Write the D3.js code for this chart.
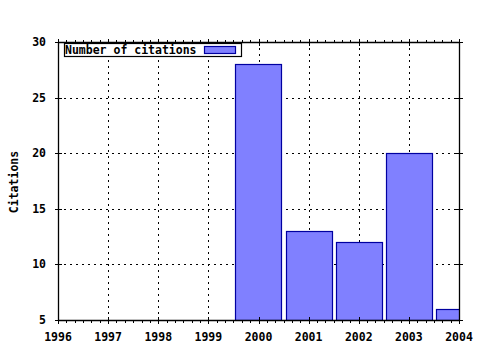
<!DOCTYPE html>
<html><head><meta charset="utf-8">
<script src="https://cdn.jsdelivr.net/npm/d3@7"></script>
<style>
body{margin:0;background:#fff;}
text{font-family:"DejaVu Sans Mono",monospace;font-weight:bold;font-size:11.5px;fill:#000;}
</style></head>
<body><svg id="c" width="480" height="350"></svg>
<script>
const years = [2000, 2001, 2002, 2003, 2004];
const citations = [28, 13, 12, 20, 6];
const xTicks = [1996, 1997, 1998, 1999, 2000, 2001, 2002, 2003, 2004];
const yTicks = [5, 10, 15, 20, 25, 30];
const seriesName = "Number of citations";
const yTitle = "Citations";

const svg = d3.select("#c");
const L = 58, R = 459, T = 42, B = 320;
const x = d3.scaleLinear().domain([1996, 2004]).range([L, R]);
const y = d3.scaleLinear().domain([5, 30]).range([B, T]);

const clip = svg.append("clipPath").attr("id","clp").append("rect")
  .attr("x", L).attr("y", T).attr("width", R - L).attr("height", B - T);

// grid
const grid = svg.append("g").attr("stroke","#000").attr("stroke-width",1).attr("stroke-dasharray","2,4");
grid.selectAll("line.v").data(xTicks.slice(1,-1)).join("line")
  .attr("x1", d => Math.round(x(d)) + 0.5).attr("x2", d => Math.round(x(d)) + 0.5)
  .attr("y1", T).attr("y2", B);
grid.selectAll("line.h").data(yTicks.slice(1,-1)).join("line")
  .attr("y1", d => Math.round(y(d)) + 0.5).attr("y2", d => Math.round(y(d)) + 0.5)
  .attr("x1", L).attr("x2", R);

// bars
const bw = 0.92;
svg.append("g").attr("clip-path","url(#clp)").selectAll("rect").data(years).join("rect")
  .attr("x", (d) => Math.round(x(d - bw/2)) + 0.5)
  .attr("width", Math.round(x(bw) - x(0)))
  .attr("y", (d,i) => Math.round(y(citations[i])) + 0.5)
  .attr("height", (d,i) => B - Math.round(y(citations[i])))
  .attr("fill", "#8080ff").attr("stroke", "#0000a0").attr("stroke-width", 1.2);

// axes
const ax = svg.append("g").attr("stroke","#000").attr("stroke-width",1.3);
ax.append("line").attr("x1",L).attr("x2",R).attr("y1",B+0.5).attr("y2",B+0.5);
ax.append("line").attr("x1",L).attr("x2",R).attr("y1",T+0.5).attr("y2",T+0.5);
ax.append("line").attr("x1",L+0.5).attr("x2",L+0.5).attr("y1",T).attr("y2",B);
ax.append("line").attr("x1",R+0.5).attr("x2",R+0.5).attr("y1",T).attr("y2",B);

const minor = [];
for (let i = 0; i < xTicks.length - 1; i++) for (let k = 1; k < 6; k++) minor.push(xTicks[i] + k/6);
const tk = svg.append("g").attr("stroke","#000").attr("stroke-width",1);
tk.selectAll("line.mb").data(minor).join("line")
  .attr("x1", d => Math.round(x(d)) + 0.5).attr("x2", d => Math.round(x(d)) + 0.5)
  .attr("y1", B).attr("y2", B + 3);
tk.selectAll("line.mt").data(minor).join("line")
  .attr("x1", d => Math.round(x(d)) + 0.5).attr("x2", d => Math.round(x(d)) + 0.5)
  .attr("y1", T - 2).attr("y2", T + 1);
tk.selectAll("line.Mb").data(xTicks).join("line")
  .attr("x1", d => Math.round(x(d)) + 0.5).attr("x2", d => Math.round(x(d)) + 0.5)
  .attr("y1", B - 3).attr("y2", B + 4);
tk.selectAll("line.Mt").data(xTicks).join("line")
  .attr("x1", d => Math.round(x(d)) + 0.5).attr("x2", d => Math.round(x(d)) + 0.5)
  .attr("y1", T - 3).attr("y2", T + 4);
tk.selectAll("line.Ml").data(yTicks).join("line")
  .attr("y1", d => Math.round(y(d)) + 0.5).attr("y2", d => Math.round(y(d)) + 0.5)
  .attr("x1", L - 3).attr("x2", L + 4);
tk.selectAll("line.Mr").data(yTicks).join("line")
  .attr("y1", d => Math.round(y(d)) + 0.5).attr("y2", d => Math.round(y(d)) + 0.5)
  .attr("x1", R - 3).attr("x2", R + 4);

// labels
svg.append("g").selectAll("text").data(xTicks).join("text")
  .attr("x", d => x(d)).attr("y", 341).attr("text-anchor","middle").text(d => d);
svg.append("g").selectAll("text").data(yTicks).join("text")
  .attr("x", 46).attr("y", d => y(d) + 4).attr("text-anchor","end").text(d => d);
svg.append("text").attr("transform","translate(18,182) rotate(-90)")
  .attr("text-anchor","middle").text(yTitle);

// legend
const lg = svg.append("g");
lg.append("rect").attr("x",64.5).attr("y",43.5).attr("width",177).attr("height",13)
  .attr("fill","#fff").attr("stroke","#000").attr("stroke-width",1.2);
lg.append("text").attr("x",65).attr("y",54).text(seriesName);
lg.append("rect").attr("x",204.5).attr("y",46.5).attr("width",31).attr("height",7)
  .attr("fill","#8080ff").attr("stroke","#0000a0").attr("stroke-width",1.2);
</script></body></html>
